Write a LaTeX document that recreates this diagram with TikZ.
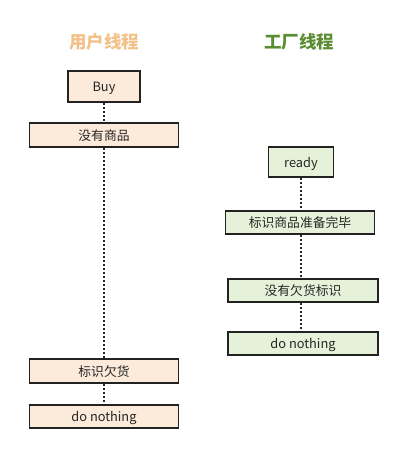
\documentclass[tikz,border=0pt]{standalone}
\usepackage{fontspec}
\setmainfont{Noto Sans CJK SC}
\usetikzlibrary{calc}
\definecolor{orangefill}{HTML}{FCEADB}
\definecolor{greenfill}{HTML}{E5F2D9}
\definecolor{titleorange}{HTML}{F2C089}
\definecolor{titlegreen}{HTML}{5B8E32}
\definecolor{boxline}{HTML}{222222}
\tikzset{
  box/.style={draw=boxline, line width=1.5pt, inner sep=0pt, font=\fontsize{12.8}{14}\selectfont, text=black!85, text height=1.12em, text depth=0.1em},
  obox/.style={box, fill=orangefill},
  gbox/.style={box, fill=greenfill},
  link/.style={line width=1.8pt, dash pattern=on 1.8pt off 2.2pt, draw=black!85},
  ttl/.style={font=\fontsize{17.5}{20}\selectfont\bfseries}
}
\begin{document}
\begin{tikzpicture}[x=1pt,y=-1pt]
\useasboundingbox (0,0) rectangle (409,455);
\node[ttl, text=titleorange] (t1) at (104,42) {用户线程};
\node[ttl, text=titlegreen] (t2) at (299,42) {工厂线程};
% left
\node[obox, minimum width=72pt, minimum height=31pt] (buy) at (104,86.5) {Buy};
\node[obox, minimum width=149pt, minimum height=24pt] (none) at (104,135) {没有商品};
\node[obox, minimum width=149pt, minimum height=24pt] (mark) at (104,371) {标识欠货};
\node[obox, minimum width=149pt, minimum height=23pt] (dn1) at (104,416.5) {do nothing};
% right
\node[gbox, minimum width=65pt, minimum height=30pt] (ready) at (301,162) {ready};
\node[gbox, minimum width=149pt, minimum height=23pt] (done) at (300,222.5) {标识商品准备完毕};
\node[gbox, minimum width=150pt, minimum height=23pt] (nomark) at (303,290.5) {没有欠货标识};
\node[gbox, minimum width=150pt, minimum height=23pt] (dn2) at (303,343.5) {do nothing};
% connectors
\draw[link] (buy.south) -- (buy.south |- none.north);
\draw[link] (none.south) -- (none.south |- mark.north);
\draw[link] (mark.south) -- (mark.south |- dn1.north);
\draw[link] (ready.south) -- (ready.south |- done.north);
\draw[link] (ready.south |- done.south) -- (ready.south |- nomark.north);
\draw[link] (ready.south |- nomark.south) -- (ready.south |- dn2.north);
\end{tikzpicture}
\end{document}
